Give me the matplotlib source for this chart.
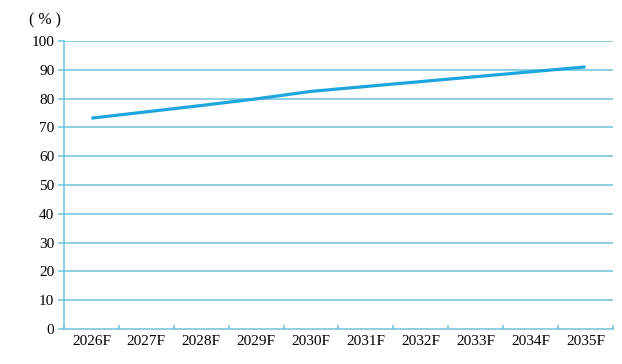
import numpy as np
import matplotlib
matplotlib.use("Agg")
import matplotlib.pyplot as plt

# Datos
anios = ["2026F", "2027F", "2028F", "2029F", "2030F",
         "2031F", "2032F", "2033F", "2034F", "2035F"]
valores = [73.2, 75.4, 77.6, 79.9, 82.5, 84.2, 85.9, 87.6, 89.3, 91.0]
ticks_y = [0, 10, 20, 30, 40, 50, 60, 70, 80, 90, 100]

color_linea = "#1ea5de"
color_rejilla = "#6cc3dc"

plt.rcParams["font.family"] = ["Liberation Serif", "DejaVu Serif"]

fig = plt.figure(figsize=(6.22, 3.64), dpi=100)
ax = fig.add_axes([0.1029, 0.0962, 0.8826, 0.7912])

x = np.arange(len(anios))
ax.plot(x, valores, color=color_linea, linewidth=2.3, solid_capstyle="butt", zorder=3)

# Ejes y rejilla
ax.set_xlim(-0.5, len(anios) - 0.5)
ax.set_ylim(0, 100)
ax.set_yticks(ticks_y)
ax.set_yticklabels([str(t) for t in ticks_y], fontsize=11)
for t in ticks_y[1:]:
    ax.axhline(t, color=color_rejilla, linewidth=1.1, zorder=1)

ax.set_xticks(np.arange(len(anios) + 1) - 0.5)
ax.set_xticklabels([])
ax.set_xticks(x, minor=True)
ax.set_xticklabels(anios, minor=True, fontsize=11)
ax.tick_params(axis="x", which="major", direction="in", length=3,
               color=color_rejilla, width=1.1)
ax.tick_params(axis="x", which="minor", length=0, pad=4)
ax.tick_params(axis="y", direction="out", length=4, color=color_rejilla,
               width=1.1, pad=3)

for lado in ["top", "right"]:
    ax.spines[lado].set_visible(False)
for lado in ["left", "bottom"]:
    ax.spines[lado].set_color(color_rejilla)
    ax.spines[lado].set_linewidth(1.1)

fig.text(0.047, 0.945, "( % )", fontsize=11.5, ha="left", va="center")

fig.savefig("out.png", dpi=100)
